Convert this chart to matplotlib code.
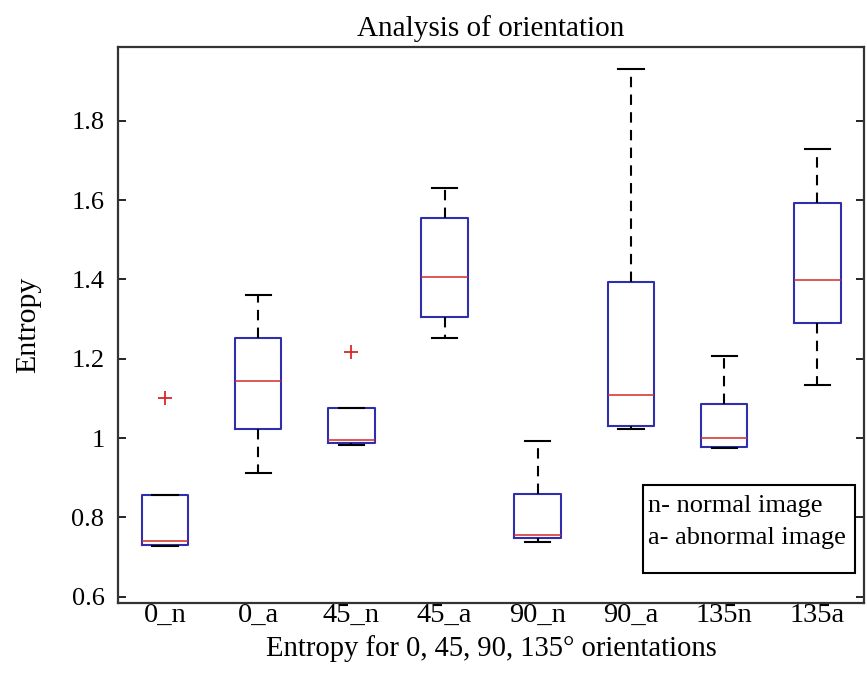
import matplotlib
matplotlib.use("Agg")
import matplotlib.pyplot as plt
from matplotlib.patches import Rectangle

labels = ["0_n", "0_a", "45_n", "45_a", "90_n", "90_a", "135n", "135a"]
q1 = [0.731, 1.022, 0.987, 1.306, 0.747, 1.030, 0.977, 1.290]
med = [0.740, 1.145, 0.995, 1.406, 0.755, 1.109, 0.999, 1.399]
q3 = [0.857, 1.253, 1.077, 1.556, 0.860, 1.394, 1.085, 1.593]
whis_lo = [0.728, 0.912, 0.982, 1.253, 0.739, 1.022, 0.974, 1.135]
whis_hi = [0.857, 1.361, 1.077, 1.630, 0.992, 1.930, 1.207, 1.728]
outliers = [[1.102], [], [1.216], [], [], [], [], []]

plt.rcParams['font.family'] = ['Liberation Serif', 'DejaVu Serif']

box_col = '#2f2fae'
med_col = '#d42a2a'

fig = plt.figure(figsize=(8.67, 6.83), dpi=100)
ax = fig.add_axes([0.1365, 0.1176, 0.8600, 0.8141])

stats = []
for i in range(len(labels)):
    stats.append(dict(label=labels[i], q1=q1[i], med=med[i], q3=q3[i],
                      whislo=whis_lo[i], whishi=whis_hi[i], fliers=outliers[i]))

ax.bxp(stats, positions=range(1, len(labels) + 1), widths=0.5, capwidths=0.27,
       boxprops=dict(color=box_col, linewidth=1.5),
       medianprops=dict(color=med_col, linewidth=1.1),
       whiskerprops=dict(color='black', linewidth=1.5, linestyle=(0, (5, 3.5))),
       capprops=dict(color='black', linewidth=1.5),
       flierprops=dict(marker='+', markeredgecolor=med_col, markersize=10,
                       markeredgewidth=1.3, linestyle='none'))

ax.set_xlim(0.5, 8.5)
ax.set_ylim(0.585, 1.987)
ax.set_yticks([0.6, 0.8, 1.0, 1.2, 1.4, 1.6, 1.8])
ax.set_yticklabels(['0.6', '0.8', '1', '1.2', '1.4', '1.6', '1.8'])
ax.tick_params(axis='y', direction='in', length=6, width=1.2, right=True,
               labelsize=19, pad=10)
ax.tick_params(axis='x', length=0, labelsize=20.5, pad=0.5)
for s in ax.spines.values():
    s.set_linewidth(1.6)
    s.set_color('#333333')

ax.set_title("Analysis of orientation", fontsize=21, pad=8)
ax.set_ylabel("Entropy", fontsize=21.5, labelpad=22)
ax.set_xlabel("Entropy for 0, 45, 90, 135\u00b0 orientations", fontsize=20.6, labelpad=5)

# legend box drawn in MATLAB style
ax.add_patch(Rectangle((0.704, 0.054), 0.284, 0.158, transform=ax.transAxes,
                       fill=False, edgecolor='black', linewidth=1.5, zorder=5))
ax.text(0.711, 0.174, "n- normal image", transform=ax.transAxes, fontsize=19,
        va='center', ha='left')
ax.text(0.711, 0.117, "a- abnormal image", transform=ax.transAxes, fontsize=19,
        va='center', ha='left')

fig.savefig("out.png", dpi=100)
